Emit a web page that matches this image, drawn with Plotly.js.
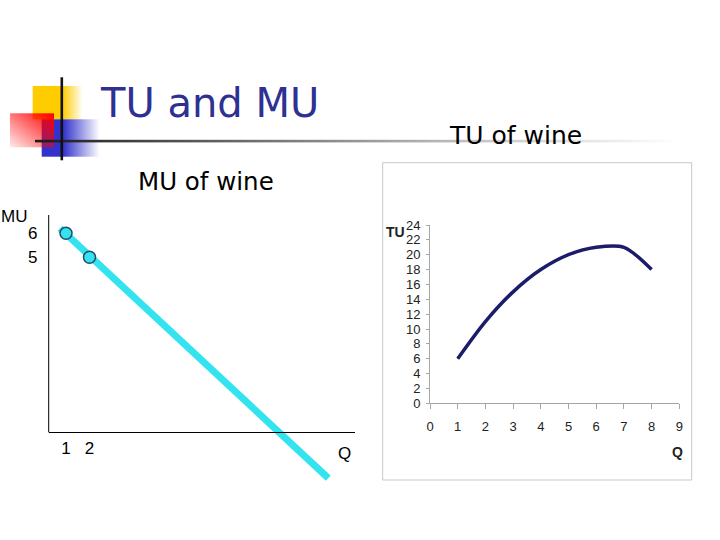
<!DOCTYPE html>
<html>
<head>
<meta charset="utf-8">
<script src="https://cdn.plot.ly/plotly-3.0.1.min.js"></script>
<style>html,body{margin:0;padding:0;background:#fff;}#chart{width:720px;height:540px;}</style>
</head>
<body>
<div id="chart"></div>
<script>
// ---- Data ----
// TU of wine (right chart)
var tuQuantity = [1, 2, 3, 4, 5, 6, 7, 8];
var tuValues   = [6, 11, 15, 18, 20, 21, 21, 18];
var tuXTicks   = [0, 1, 2, 3, 4, 5, 6, 7, 8, 9];
var tuYTicks   = [0, 2, 4, 6, 8, 10, 12, 14, 16, 18, 20, 22, 24];

// MU of wine (left chart, schematic)
var muPointQ   = [1, 2];
var muPointV   = [6, 5];
var muLineQ    = [0.745, 12.16];
var muLineV    = [6.21, -4.2];
var muXTickVals = [1, 2];
var muXTickText = ['1', '2'];
var muYTickVals = [6, 5];
var muYTickText = ['6', '5'];

// ---- helpers: pixel -> paper (margins are zero) ----
function px(x){ return x/720; }
function py(y){ return 1 - y/540; }

var deco = "<svg xmlns='http://www.w3.org/2000/svg' width='720' height='540' viewBox='0 0 720 540'>" +
 "<defs>" +
 "<linearGradient id='gy' x1='0' y1='0' x2='1' y2='0'><stop offset='0' stop-color='#FFCC00'/><stop offset='0.6' stop-color='#FFCC00'/><stop offset='1' stop-color='#FFCC00' stop-opacity='0'/></linearGradient>" +
 "<linearGradient id='gb' x1='0' y1='0' x2='1' y2='0'><stop offset='0' stop-color='#3333CC'/><stop offset='0.37' stop-color='#3333CC'/><stop offset='1' stop-color='#3333CC' stop-opacity='0'/></linearGradient>" +
 "<linearGradient id='gr' x1='1' y1='0' x2='0' y2='1'><stop offset='0' stop-color='#FF0000'/><stop offset='1' stop-color='#FF0000' stop-opacity='0.08'/></linearGradient>" +
 "<linearGradient id='gl' x1='0' y1='0' x2='1' y2='0'><stop offset='0' stop-color='#1a1a1a'/><stop offset='0.1' stop-color='#333333'/><stop offset='0.45' stop-color='#8a8a8a'/><stop offset='0.7' stop-color='#c8c8c8'/><stop offset='1' stop-color='#ffffff'/></linearGradient>" +
 "</defs>" +
 "<rect x='32.7' y='86' width='50' height='33.3' fill='url(#gy)'/>" +
 "<rect x='41.7' y='119.3' width='58' height='37.4' fill='url(#gb)'/>" +
 "<rect x='10' y='113.3' width='44' height='34' fill='url(#gr)'/>" +
 "<rect x='35' y='139.8' width='645' height='2.6' fill='url(#gl)'/>" +
 "<rect x='60.5' y='77.3' width='2.6' height='83' fill='#111111'/>" +
 "</svg>";

var tickFontNarrow = {family: 'Liberation Sans Narrow, Liberation Sans, Arial', size: 13, color: '#222'};
var boldNarrow = {family: 'Liberation Sans Narrow, Liberation Sans, Arial', size: 14, color: '#222', weight: 'bold'};
var muFont = {family: 'Liberation Sans, Arial', size: 17, color: '#000'};
var titleFont = {family: 'DejaVu Sans, Verdana, sans-serif', size: 40, color: '#2E3192'};
var subFont = {family: 'DejaVu Sans, Verdana, sans-serif', size: 24.5, color: '#000'};

var traces = [
  {
    x: tuQuantity, y: tuValues, xaxis: 'x', yaxis: 'y',
    type: 'scatter', mode: 'lines',
    line: {color: '#1C1C6B', width: 3.5, shape: 'spline', smoothing: 0.85},
    hoverinfo: 'skip', showlegend: false
  },
  {
    x: muLineQ, y: muLineV, xaxis: 'x2', yaxis: 'y2',
    type: 'scatter', mode: 'lines',
    line: {color: '#33E3F0', width: 7},
    hoverinfo: 'skip', showlegend: false
  },
  {
    x: muPointQ, y: muPointV, xaxis: 'x2', yaxis: 'y2',
    type: 'scatter', mode: 'markers',
    marker: {size: 12, color: '#33E3F0', line: {color: '#2A4A6A', width: 1.5}},
    hoverinfo: 'skip', showlegend: false
  }
];

var layout = {
  width: 720, height: 540,
  margin: {l: 0, r: 0, t: 0, b: 0},
  paper_bgcolor: '#fff', plot_bgcolor: 'rgba(0,0,0,0)',
  showlegend: false,
  xaxis: {
    domain: [px(430), px(679.3)], range: [0, 9], tickvals: tuXTicks,
    showline: true, linecolor: '#A6A6A6', linewidth: 1,
    ticks: 'outside', ticklen: 5, tickcolor: '#A6A6A6',
    showgrid: false, zeroline: false, tickfont: tickFontNarrow,
    ticklabelstandoff: 6, anchor: 'y', fixedrange: true
  },
  yaxis: {
    domain: [py(403.3), py(225)], range: [0, 24], tickvals: tuYTicks,
    showline: true, linecolor: '#A6A6A6', linewidth: 1,
    ticks: 'outside', ticklen: 3, tickcolor: '#A6A6A6',
    showgrid: false, zeroline: false, tickfont: tickFontNarrow,
    ticklabelstandoff: 3, anchor: 'x', fixedrange: true
  },
  xaxis2: {
    domain: [px(48.5), px(355)], range: [(48.5-42.5)/23.5, (355-42.5)/23.5],
    tickvals: muXTickVals, ticktext: muXTickText,
    showline: true, linecolor: '#000', linewidth: 1,
    ticks: '', showgrid: false, zeroline: false, tickfont: muFont,
    anchor: 'free', position: py(432.3), fixedrange: true
  },
  yaxis2: {
    domain: [py(485), py(215)], range: [(377.3-485)/24, (377.3-215)/24],
    tickvals: muYTickVals, ticktext: muYTickText,
    showline: false, ticks: '', showgrid: false, zeroline: false,
    tickfont: muFont, ticklabelstandoff: 10, anchor: 'x2', fixedrange: true
  },
  shapes: [
    {type: 'rect', xref: 'paper', yref: 'paper', x0: px(382.7), x1: px(691.7), y0: py(480), y1: py(162.7),
     line: {color: '#C8C8C8', width: 1}, fillcolor: 'rgba(0,0,0,0)', layer: 'below'},
    {type: 'line', xref: 'paper', yref: 'paper', x0: px(48.7), x1: px(48.7), y0: py(432.3), y1: py(215),
     line: {color: '#000', width: 1}}
  ],
  images: [
    {source: 'data:image/svg+xml;charset=utf-8,' + encodeURIComponent(deco),
     xref: 'paper', yref: 'paper', x: 0, y: 1, sizex: 1, sizey: 1,
     xanchor: 'left', yanchor: 'top', sizing: 'stretch', layer: 'below'}
  ],
  annotations: [
    {text: 'TU and MU', xref: 'paper', yref: 'paper', x: px(98), y: py(102.5), xanchor: 'left', yanchor: 'middle', showarrow: false, font: titleFont},
    {text: 'MU of wine', xref: 'paper', yref: 'paper', x: px(136), y: py(181), xanchor: 'left', yanchor: 'middle', showarrow: false, font: subFont},
    {text: 'TU of wine', xref: 'paper', yref: 'paper', x: px(447), y: py(135), xanchor: 'left', yanchor: 'middle', showarrow: false, font: {family: 'DejaVu Sans, Verdana, sans-serif', size: 25, color: '#000'}},
    {text: 'MU', xref: 'paper', yref: 'paper', x: px(-1), y: py(216), xanchor: 'left', yanchor: 'middle', showarrow: false, font: muFont},
    {text: 'Q', xref: 'paper', yref: 'paper', x: px(344), y: py(453), xanchor: 'center', yanchor: 'middle', showarrow: false, font: muFont},
    {text: 'TU', xref: 'paper', yref: 'paper', x: px(395), y: py(231.5), xanchor: 'center', yanchor: 'middle', showarrow: false, font: boldNarrow},
    {text: 'Q', xref: 'paper', yref: 'paper', x: px(677.5), y: py(452.5), xanchor: 'center', yanchor: 'middle', showarrow: false, font: boldNarrow}
  ]
};

Plotly.newPlot('chart', traces, layout, {staticPlot: true, displayModeBar: false});
</script>
</body>
</html>
